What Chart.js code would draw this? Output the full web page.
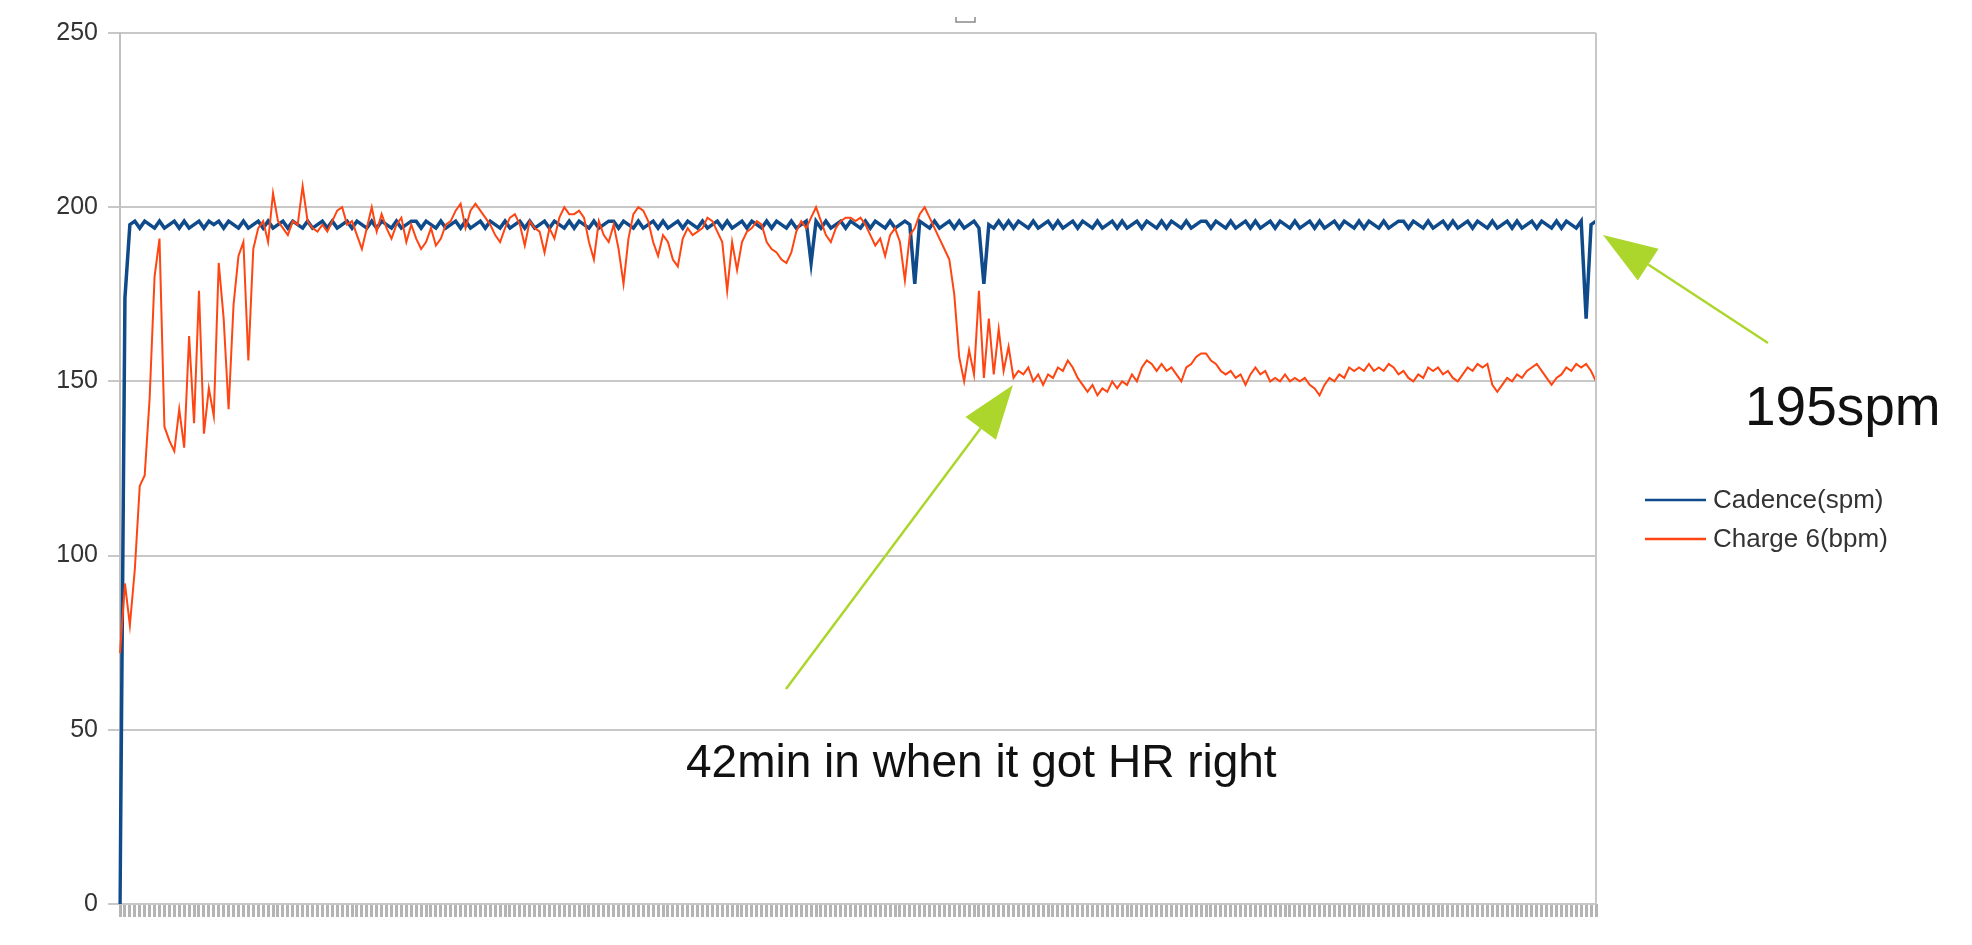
<!DOCTYPE html>
<html>
<head>
<meta charset="utf-8">
<title>Cadence vs Charge 6</title>
<script src="https://cdn.jsdelivr.net/npm/chart.js@4.4.1/dist/chart.umd.min.js"></script>
<style>
  html, body { margin: 0; padding: 0; background: #fff; }
  #wrap { width: 1972px; height: 945px; }
</style>
</head>
<body>
<div id="wrap"><canvas id="chart" width="1972" height="945"></canvas></div>
<script>
// cadence from the watch, steps per minute (one sample per tick)
const cadence = [
  0, 174, 195, 196, 194, 196, 195, 194, 196, 194, 195, 196, 194, 196, 194, 195, 196, 194, 196, 195,
  196, 194, 196, 195, 194, 196, 194, 195, 196, 194, 196, 194, 195, 196, 194, 196, 195, 194, 196, 194,
  195, 196, 194, 196, 194, 195, 196, 194, 196, 195, 194, 196, 194, 196, 195, 194, 196, 194, 195, 196,
  196, 194, 196, 195, 194, 196, 194, 195, 196, 194, 196, 194, 195, 196, 194, 196, 195, 194, 196, 194,
  195, 196, 194, 196, 194, 195, 196, 194, 196, 195, 194, 196, 194, 196, 195, 194, 196, 194, 195, 196,
  196, 194, 196, 195, 194, 196, 194, 195, 196, 194, 196, 194, 195, 196, 194, 196, 195, 194, 196, 194,
  195, 196, 194, 196, 194, 195, 196, 194, 196, 195, 194, 196, 194, 196, 195, 194, 196, 194, 195, 196,
  184, 196, 194, 196, 194, 195, 196, 194, 196, 195, 194, 196, 194, 196, 195, 194, 196, 194, 195, 196,
  195, 178, 196, 195, 194, 196, 194, 195, 196, 194, 196, 194, 195, 196, 194, 178, 195, 194, 196, 194,
  196, 194, 196, 195, 194, 196, 194, 195, 196, 194, 196, 194, 195, 196, 194, 196, 195, 194, 196, 194,
  195, 196, 194, 196, 194, 195, 196, 194, 196, 195, 194, 196, 194, 196, 195, 194, 196, 194, 195, 196,
  196, 194, 196, 195, 194, 196, 194, 195, 196, 194, 196, 194, 195, 196, 194, 196, 195, 194, 196, 194,
  195, 196, 194, 196, 194, 195, 196, 194, 196, 195, 194, 196, 194, 196, 195, 194, 196, 194, 195, 196,
  196, 194, 196, 195, 194, 196, 194, 195, 196, 194, 196, 194, 195, 196, 194, 196, 195, 194, 196, 194,
  195, 196, 194, 196, 194, 195, 196, 194, 196, 195, 194, 196, 194, 196, 195, 194, 196, 168, 195, 196
];

// heart rate from the Charge 6, beats per minute
const heartRate = [
  72, 92, 80, 96, 120, 123, 145, 180, 191, 137, 133, 130, 142, 131, 163, 138, 176, 135, 148, 140,
  184, 168, 142, 172, 186, 190, 156, 188, 194, 196, 190, 204, 196, 194, 192, 196, 195, 206, 196, 194,
  193, 195, 193, 196, 199, 200, 195, 196, 192, 188, 194, 200, 193, 198, 194, 191, 195, 197, 190, 195,
  191, 188, 190, 194, 189, 191, 195, 196, 199, 201, 194, 199, 201, 199, 197, 195, 192, 190, 194, 197,
  198, 195, 189, 196, 194, 193, 187, 194, 191, 197, 200, 198, 198, 199, 197, 190, 185, 196, 192, 190,
  195, 188, 178, 191, 198, 200, 199, 196, 190, 186, 192, 190, 185, 183, 191, 194, 192, 193, 194, 197,
  196, 193, 190, 176, 190, 182, 190, 193, 194, 196, 195, 190, 188, 187, 185, 184, 187, 193, 196, 194,
  197, 200, 196, 192, 190, 194, 196, 197, 197, 196, 197, 195, 192, 189, 191, 186, 192, 194, 190, 179,
  192, 194, 198, 200, 197, 194, 191, 188, 185, 175, 157, 150, 159, 152, 176, 151, 168, 152, 165, 153,
  160, 151, 153, 152, 154, 150, 152, 149, 152, 151, 154, 153, 156, 154, 151, 149, 147, 149, 146, 148,
  147, 150, 148, 150, 149, 152, 150, 154, 156, 155, 153, 155, 153, 154, 152, 150, 154, 155, 157, 158,
  158, 156, 155, 153, 152, 153, 151, 152, 149, 152, 154, 152, 153, 150, 151, 150, 152, 150, 151, 150,
  151, 149, 148, 146, 149, 151, 150, 152, 151, 154, 153, 154, 153, 155, 153, 154, 153, 155, 154, 152,
  153, 151, 150, 152, 151, 154, 153, 154, 152, 153, 151, 150, 152, 154, 153, 155, 154, 155, 149, 147,
  149, 151, 150, 152, 151, 153, 154, 155, 153, 151, 149, 151, 152, 154, 153, 155, 154, 155, 153, 150
];

const sampleLabels = cadence.map((_, i) => String(i + 1));
const yTicks = [0, 50, 100, 150, 200, 250];
const seriesNames = ['Cadence(spm)', 'Charge 6(bpm)'];
const seriesColors = ['#0f4a8a', '#ff4512'];
const noteCadence = '195spm';
const noteHeartRate = '42min in when it got HR right';

const FONT = '"Liberation Sans", Arial, sans-serif';
const ARROW_GREEN = '#acd62c';

function drawArrow(ctx, x0, y0, x1, y1) {
    const ang = Math.atan2(y1 - y0, x1 - x0);
    const headLen = 54, headHalf = 19;
    const bx = x1 - headLen * Math.cos(ang);
    const by = y1 - headLen * Math.sin(ang);
    ctx.save();
    ctx.strokeStyle = ARROW_GREEN;
    ctx.fillStyle = ARROW_GREEN;
    ctx.lineWidth = 2.5;
    ctx.beginPath();
    ctx.moveTo(x0, y0);
    ctx.lineTo(bx, by);
    ctx.stroke();
    ctx.beginPath();
    ctx.moveTo(x1, y1);
    ctx.lineTo(bx + headHalf * Math.sin(ang), by - headHalf * Math.cos(ang));
    ctx.lineTo(bx - headHalf * Math.sin(ang), by + headHalf * Math.cos(ang));
    ctx.closePath();
    ctx.fill();
    ctx.restore();
}

// right frame, little title stub, legend and the hand-drawn notes
const annotations = {
    id: 'annotations',
    afterDraw(chart) {
        const { ctx, chartArea } = chart;
        ctx.save();

        ctx.strokeStyle = '#c8c8c8';
        ctx.lineWidth = 2;
        ctx.beginPath();
        ctx.moveTo(chartArea.right, chartArea.top);
        ctx.lineTo(chartArea.right, chartArea.bottom);
        ctx.stroke();

        // empty title placeholder left over from the spreadsheet
        ctx.strokeStyle = '#8a8a8a';
        ctx.lineWidth = 1.5;
        ctx.beginPath();
        ctx.moveTo(956, 17);
        ctx.lineTo(956, 22);
        ctx.lineTo(975, 22);
        ctx.lineTo(975, 17);
        ctx.stroke();

        // legend
        ctx.font = `26px ${FONT}`;
        ctx.textBaseline = 'middle';
        ctx.textAlign = 'left';
        chart.data.datasets.forEach((ds, i) => {
            const y = 500 + i * 39;
            ctx.strokeStyle = ds.borderColor;
            ctx.lineWidth = 2.5;
            ctx.beginPath();
            ctx.moveTo(1645, y);
            ctx.lineTo(1706, y);
            ctx.stroke();
            ctx.fillStyle = '#333';
            ctx.fillText(ds.label, 1713, y + 1);
        });

        ctx.textBaseline = 'alphabetic';
        ctx.fillStyle = '#111';
        ctx.font = `55px ${FONT}`;
        ctx.fillText(noteCadence, 1745, 425);
        ctx.font = `46px ${FONT}`;
        ctx.fillText(noteHeartRate, 686, 777);
        ctx.restore();

        drawArrow(ctx, 1768, 343, 1603, 235);
        drawArrow(ctx, 786, 689, 1013, 385);
    }
};

new Chart(document.getElementById('chart'), {
    type: 'line',
    data: {
        labels: sampleLabels,
        datasets: [
            { label: seriesNames[0], data: cadence, borderColor: seriesColors[0], borderWidth: 3.5, pointRadius: 0, order: 2 },
            { label: seriesNames[1], data: heartRate, borderColor: seriesColors[1], borderWidth: 2, pointRadius: 0, order: 1 }
        ]
    },
    options: {
        responsive: false,
        animation: false,
        devicePixelRatio: 1,
        layout: { padding: { left: 0, right: 376, top: 33, bottom: 28 } },
        plugins: { legend: { display: false }, tooltip: { enabled: false } },
        scales: {
            x: {
                type: 'category',
                offset: false,
                grid: { drawOnChartArea: false, drawTicks: true, tickLength: 13, color: '#b4b4b4', lineWidth: 3 },
                border: { display: false },
                ticks: { display: false }
            },
            y: {
                min: 0,
                max: 250,
                afterBuildTicks: (scale) => { scale.ticks = yTicks.map(v => ({ value: v })); },
                afterFit: (scale) => { scale.width = 120; },
                ticks: { font: { family: FONT, size: 25 }, color: '#333', padding: 10 },
                grid: { color: '#c8c8c8', lineWidth: 2, tickLength: 12 },
                border: { color: '#c0c0c0', width: 2 }
            }
        }
    },
    plugins: [annotations]
});
</script>
</body>
</html>
